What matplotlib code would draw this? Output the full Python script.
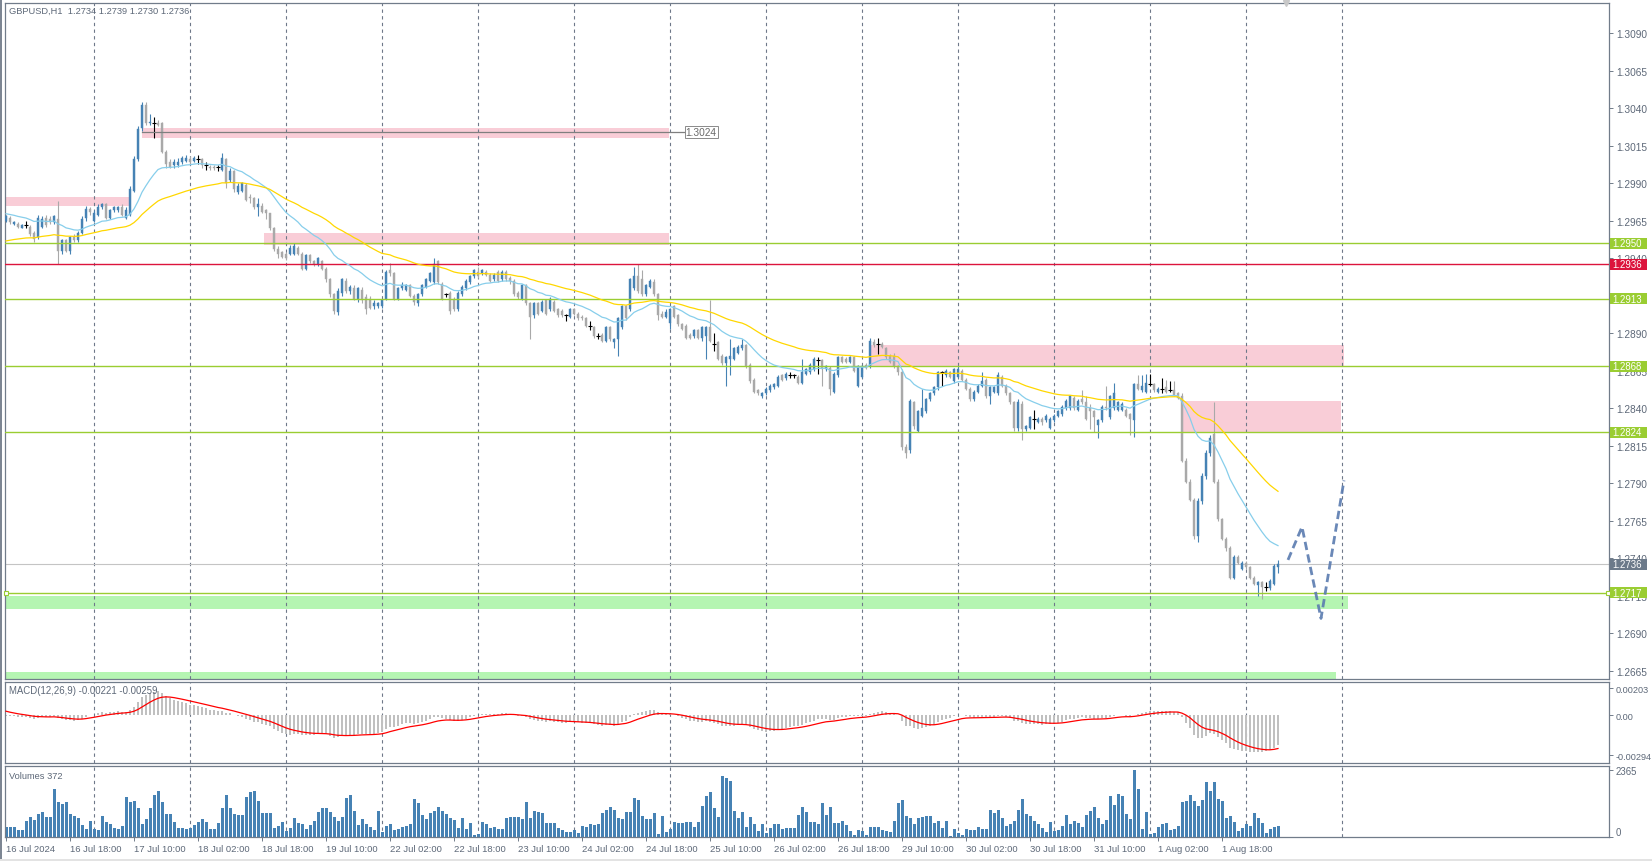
import numpy as np
import matplotlib.pyplot as plt
from matplotlib.patches import Rectangle
from matplotlib.transforms import blended_transform_factory

plt.rcParams['font.family'] = ['Liberation Sans', 'DejaVu Sans']

# GBPUSD H1, 16 Jul 2024 02:00 -> 2 Aug 2024 08:00
# prices are kept in pips relative to BASE
BASE = 1.2950
PIP = 0.0001
FIRST_HOUR = 2

open_pips = [
    15, 17, 13, 13, 10, 12, 11, 7, 4, 11, 17, 16,
    14, 16, -5, 2, -5, 4, 2, 7, 17, 23, 15, 19,
    24, 26, 17, 22, 22, 24, 17, 19, 35, 56, 77, 92,
    80, 80, 80, 80, 61, 54, 52, 52, 54, 55, 56, 55,
    56, 56, 52, 51, 51, 51, 49, 56, 42, 48, 34, 35,
    39, 31, 30, 24, 25, 22, 20, 10, -4, -6, -7, -7,
    -7, -3, -7, -17, -8, -12, -14, -12, -17, -24, -34, -46,
    -33, -25, -32, -30, -37, -31, -36, -37, -42, -42, -42, -37,
    -18, -20, -37, -30, -31, -28, -35, -40, -34, -29, -25, -26,
    -12, -27, -34, -33, -37, -44, -34, -30, -26, -22, -19, -20,
    -19, -21, -24, -19, -24, -19, -23, -25, -33, -37, -28, -40,
    -48, -40, -45, -38, -44, -39, -44, -45, -48, -49, -44, -47,
    -49, -50, -55, -56, -62, -61, -65, -56, -66, -64, -56, -42,
    -44, -30, -22,
    -24, -34, -29, -26, -34, -47, -49, -53, -42, -48, -54, -55,
    -61, -62, -58, -63, -62, -56, -67, -66, -75, -80, -77, -77,
    -73, -70, -68, -81, -91, -98, -102, -100, -98, -96, -95, -88,
    -90, -88, -88, -89, -93, -87, -86, -84, -78, -78, -84, -83,
    -99, -88, -76, -77, -79, -76, -95, -89, -81, -82, -66, -67,
    -67, -70, -75, -75, -82, -86, -136, -138, -106, -125, -115, -112,
    -104, -100, -96, -86, -88, -86, -92,
    -89, -85, -91, -97, -104, -99, -95, -91, -102, -99, -100, -89,
    -95, -100, -106, -123, -107, -124, -123, -117, -119, -117, -118, -123,
    -118, -115, -114, -110, -110, -103, -111, -104, -106, -110, -112, -121,
    -118, -109, -116, -110, -111, -111, -111, -114, -118, -94, -98, -99,
    -94, -94, -99, -97, -96, -98, -98, -100, -102, -145, -159, -171,
    -195, -172, -155, -140, -127, -159, -184, -197, -203, -223, -209, -217,
    -213, -216, -223, -228, -226, -229, -230, -227, -216,
]

close_pips = [
    18, 14, 14, 11, 12, 12, 6, 3, 17, 16, 12, 14,
    18, -5, 2, -5, 4, 2, 7, 16, 23, 21, 20, 24,
    26, 17, 22, 24, 24, 19, 22, 36, 56, 76, 92, 80,
    81, 80, 79, 61, 53, 51, 54, 54, 57, 57, 54, 57,
    56, 52, 52, 50, 50, 51, 57, 40, 48, 36, 38, 40,
    29, 30, 24, 26, 21, 20, 10, -4, -7, -9, -10, -3,
    -2, -7, -17, -8, -12, -14, -10, -17, -24, -34, -45, -32,
    -24, -32, -29, -37, -30, -38, -44, -43, -40, -40, -38, -19,
    -20, -37, -30, -28, -28, -35, -39, -34, -28, -24, -20, -14,
    -26, -37, -34, -45, -44, -33, -29, -25, -22, -18, -22, -18,
    -21, -25, -21, -25, -19, -24, -25, -34, -36, -28, -40, -49,
    -40, -47, -39, -47, -37, -45, -48, -48, -48, -44, -47, -50,
    -50, -55, -55, -62, -62, -65, -56, -64, -64, -50, -42, -50,
    -24, -22, -32,
    -34, -28, -25, -34, -48, -49, -46, -44, -49, -54, -57, -63,
    -63, -58, -63, -56, -56, -65, -67, -77, -80, -76, -75, -70,
    -69, -68, -82, -92, -99, -100, -100, -97, -95, -94, -89, -91,
    -87, -88, -88, -93, -86, -84, -81, -77, -78, -84, -82, -97,
    -87, -76, -79, -79, -76, -85, -82, -82, -83, -65, -68, -67,
    -69, -76, -79, -82, -86, -136, -140, -105, -122, -112, -110, -104,
    -100, -96, -86, -86, -85, -89, -84,
    -84, -91, -97, -104, -99, -95, -92, -102, -96, -96, -88, -95,
    -100, -106, -123, -106, -124, -122, -116, -117, -117, -119, -115, -117,
    -115, -112, -109, -105, -102, -110, -105, -106, -117, -112, -116, -118,
    -109, -110, -102, -100, -106, -107, -115, -117, -94, -97, -95, -93,
    -94, -98, -97, -97, -99, -98, -101, -103, -145, -159, -171, -195,
    -172, -155, -140, -130, -159, -184, -197, -203, -223, -209, -213, -213,
    -216, -223, -227, -226, -229, -229, -225, -215, -214,
]

high_pips = [
    19, 18, 15, 14, 13, 15, 12, 8, 19, 18, 19, 18,
    19, 28, 3, 3, 5, 6, 8, 18, 25, 24, 22, 26,
    27, 27, 23, 25, 25, 26, 24, 38, 58, 78, 94, 94,
    86, 84, 82, 81, 62, 56, 56, 57, 58, 59, 58, 58,
    59, 57, 54, 52, 52, 52, 60, 57, 50, 49, 40, 41,
    40, 33, 31, 30, 27, 23, 20, 11, -2, -5, -6, -1,
    0, -2, -6, -7, -7, -11, -9, -11, -16, -23, -33, -30,
    -23, -23, -28, -28, -29, -29, -34, -35, -38, -39, -37, -18,
    -13, -19, -29, -26, -27, -27, -34, -33, -27, -23, -19, -10,
    -11, -26, -33, -32, -36, -32, -28, -24, -21, -17, -16, -17,
    -18, -20, -20, -18, -18, -18, -22, -24, -32, -27, -27, -39,
    -39, -39, -38, -37, -36, -38, -43, -44, -47, -43, -43, -46,
    -48, -49, -52, -55, -60, -60, -55, -55, -63, -49, -41, -41,
    -23, -16, -14,
    -18, -27, -24, -24, -33, -45, -44, -43, -41, -47, -53, -54,
    -60, -57, -57, -55, -55, -38, -60, -65, -74, -75, -64, -69,
    -68, -64, -67, -80, -90, -97, -99, -96, -94, -93, -88, -87,
    -86, -86, -87, -88, -77, -83, -80, -76, -76, -77, -81, -82,
    -86, -75, -75, -76, -75, -75, -81, -81, -80, -63, -64, -63,
    -66, -69, -74, -73, -81, -84, -134, -104, -105, -111, -97, -103,
    -99, -95, -85, -85, -84, -85, -83,
    -82, -84, -90, -96, -98, -94, -86, -90, -95, -95, -86, -88,
    -94, -99, -105, -104, -105, -121, -115, -111, -116, -116, -114, -116,
    -114, -111, -108, -104, -101, -102, -104, -98, -102, -107, -111, -117,
    -108, -95, -101, -93, -105, -106, -110, -113, -93, -88, -88, -87,
    -87, -93, -96, -90, -91, -92, -92, -99, -100, -143, -157, -170,
    -170, -153, -138, -128, -106, -157, -183, -196, -202, -208, -208, -212,
    -212, -215, -222, -225, -225, -226, -224, -214, -211,
]

low_pips = [
    14, 13, 12, 10, 10, 10, 5, 1, 3, 10, 11, 13,
    13, -14, -7, -6, -7, 1, 1, 6, 15, 19, 14, 18,
    23, 16, 16, 21, 21, 18, 16, 18, 34, 55, 75, 79,
    79, 70, 78, 60, 50, 50, 50, 51, 53, 54, 53, 54,
    53, 50, 49, 49, 49, 48, 48, 37, 41, 34, 33, 34,
    28, 27, 23, 18, 20, 16, 9, -5, -10, -10, -11, -8,
    -8, -8, -18, -18, -13, -15, -15, -18, -26, -36, -47, -48,
    -35, -33, -34, -38, -39, -40, -47, -44, -44, -43, -43, -38,
    -22, -38, -38, -31, -32, -36, -41, -42, -35, -30, -26, -27,
    -27, -38, -36, -47, -45, -45, -35, -31, -27, -23, -23, -21,
    -22, -26, -25, -26, -25, -25, -27, -35, -37, -38, -41, -64,
    -50, -48, -46, -48, -45, -46, -49, -49, -52, -50, -48, -51,
    -51, -56, -58, -63, -64, -66, -66, -65, -70, -75, -57, -51,
    -45, -31, -33,
    -35, -35, -30, -35, -51, -50, -50, -57, -50, -55, -58, -64,
    -64, -63, -64, -65, -77, -66, -72, -78, -81, -95, -88, -78,
    -74, -71, -83, -93, -100, -101, -103, -101, -99, -97, -96, -92,
    -91, -90, -90, -94, -94, -88, -87, -85, -87, -95, -85, -101,
    -100, -89, -80, -80, -80, -86, -96, -90, -84, -83, -69, -74,
    -70, -77, -80, -83, -88, -138, -143, -140, -124, -126, -116, -113,
    -105, -101, -98, -95, -89, -90, -93,
    -90, -92, -98, -105, -105, -100, -96, -103, -107, -100, -101, -96,
    -101, -107, -125, -125, -131, -125, -124, -124, -120, -121, -119, -124,
    -119, -116, -115, -111, -111, -111, -112, -107, -118, -124, -126, -130,
    -119, -111, -117, -111, -112, -112, -116, -128, -129, -98, -99, -100,
    -95, -99, -100, -100, -100, -99, -102, -104, -146, -160, -172, -197,
    -199, -174, -157, -142, -160, -185, -198, -205, -224, -224, -214, -218,
    -217, -224, -228, -235, -237, -232, -231, -228, -220,
]

volumes = [
    366, 342, 342, 248, 248, 566, 720, 590, 802, 897, 696, 696,
    1687, 1227, 1168, 1227, 802, 755, 661, 425, 283, 566,
    271, 248, 743, 519, 448, 307, 283, 378, 1404, 1251, 1274, 1015,
    448, 625, 1015, 1487, 1617, 1251, 814, 814, 519, 307, 307, 283,
    330, 425, 520, 625, 519, 283, 283, 484, 1015, 1487, 1015, 802,
    767, 767, 1428, 1581, 1617, 1274, 838, 838, 838, 307, 400, 519,
    212, 330, 661, 507, 472, 271, 413, 566, 873, 1015, 1015, 873,
    700, 566, 720, 1369, 1487, 920, 425, 637, 448, 342, 248, 920,
    189, 378, 448, 248, 283, 366, 400, 448, 1333, 1192, 767, 637,
    838, 920, 1050, 920, 802, 661, 590, 307, 684, 295, 507, 71,
    94, 519, 448, 307, 366, 295, 295, 661, 696, 690, 696, 649,
    1227, 661, 920, 897, 838, 484, 484, 484, 307, 248, 189, 165,
    248, 130, 401, 366, 448, 425, 448, 838, 950, 1074, 956, 684,
    637, 873, 873, 1369, 1310, 755, 625, 625, 838, 94, 755, 189,
    271, 543, 510, 484, 519, 543, 366, 519, 1109, 1463, 1605, 1038,
    720, 2136, 2077, 1994, 932, 684, 897, 366, 720, 450, 212, 448,
    130, 307, 448, 448, 283, 330, 307, 330, 779, 1074, 897, 519, 519,
    460, 1204, 779, 1062, 496, 496, 566, 425, 212, 71,
    248, 212, 71, 354, 354, 354, 248, 212, 177, 566,
    1204, 1310, 743, 673, 460, 673, 708, 743, 743, 496,
    566, 319, 566, 35, 283, 142, 71, 283, 248, 248,
    354, 283, 283, 956, 850, 956, 673, 389, 460, 566,
    956, 1345, 814, 743, 566, 460, 319, 177, 531, 212,
    248, 389, 779, 460, 566, 496, 354, 779, 920, 1062,
    673, 460, 602, 1451, 1133, 1522, 1451, 814, 637, 2365,
    1699, 283, 885, 106, 142, 354, 460, 496, 248, 283,
    389, 1239, 1274, 1487, 1274, 1097, 1310, 1947, 1628, 1947,
    1345, 1274, 673, 743, 531, 212, 319, 460, 389, 850,
    673, 496, 142, 283, 354, 372,
]

date_labels = ['16 Jul 2024', '16 Jul 18:00', '17 Jul 10:00', '18 Jul 02:00',
               '18 Jul 18:00', '19 Jul 10:00', '22 Jul 02:00', '22 Jul 18:00',
               '23 Jul 10:00', '24 Jul 02:00', '24 Jul 18:00', '25 Jul 10:00',
               '26 Jul 02:00', '26 Jul 18:00', '29 Jul 10:00', '30 Jul 02:00',
               '30 Jul 18:00', '31 Jul 10:00', '1 Aug 02:00', '1 Aug 18:00']

# horizontal levels drawn by the analyst
green_levels = [1.2950, 1.2913, 1.2868, 1.2824, 1.2717]
red_level = 1.2936
trend_level = 1.3024
# zones: (bar from, bar to, price low, price high)
supply_zones = [(-0.5, 31, 1.2975, 1.2981), (34, 165.75, 1.3020, 1.3027),
                (64.5, 165.75, 1.2949, 1.2957), (216, 334.5, 1.2868, 1.2882),
                (294, 333.75, 1.2824, 1.2845)]
demand_zones = [(-0.5, 335.5, 1.2706, 1.2715), (-0.5, 332.5, 1.2659, 1.2664)]
# forecast path
fc_bars = [320.5, 324, 328.75, 334.5]
fc_price = [1.2739, 1.2761, 1.2700, 1.2792]

# values the indicators had at the first bar
EMA20_SEED, EMA50_SEED = 1.2970, 1.2951
EMA12_SEED, EMA26_SEED, SIGNAL_SEED = 1.29665, 1.29670, 0.0004
MACD_TICKS = [0.00203, 0.0, -0.00294]
MACD_TEXT = 'MACD(12,26,9) -0.00221 -0.00259'

o = BASE + np.array(open_pips) * PIP
c = BASE + np.array(close_pips) * PIP
h = BASE + np.array(high_pips) * PIP
l = BASE + np.array(low_pips) * PIP
h = np.maximum(h, np.maximum(o, c))
l = np.minimum(l, np.minimum(o, c))
vol = np.array(volumes)
x = np.arange(len(c))
assert len(o) == len(c) == len(h) == len(l) == len(vol)


def ema(values, period, seed):
    a = 2.0 / (period + 1)
    out = np.empty(len(values))
    prev = seed
    for k, v in enumerate(values):
        prev = prev + a * (v - prev)
        out[k] = prev
    return out


ma_fast = ema(c, 20, EMA20_SEED)
ma_slow = ema(c, 50, EMA50_SEED)
macd = ema(c, 12, EMA12_SEED) - ema(c, 26, EMA26_SEED)
signal = ema(macd, 9, SIGNAL_SEED)

BULL = '#4682b4'
BEAR = '#a9a9a9'
GREEN = '#9acd32'
RED = '#dc143c'
PINK = '#f9cdd7'
LIGHTGREEN = '#b5f5b2'
FRAME = '#717c8a'
TXT = '#5d6878'
FS = 6.7       # texts inside the panels
FS_AX = 7.3    # right-hand scale

W, H = 1652, 862
fig = plt.figure(figsize=(W / 100, H / 100), dpi=100)
fig.patch.set_facecolor('white')


def rect(x0, y0, x1, y1):
    return [x0 / W, 1 - y1 / H, (x1 - x0) / W, (y1 - y0) / H]


ax = fig.add_axes(rect(5, 4, 1609, 680))
axm = fig.add_axes(rect(5, 683, 1609, 764), sharex=ax)
axv = fig.add_axes(rect(5, 767, 1609, 838), sharex=ax)

fig.add_artist(Rectangle((0, 0), 2 / W, 1, transform=fig.transFigure,
                         color='#7d8693', lw=0))
fig.add_artist(Rectangle((0, 0), 1, 2 / H, transform=fig.transFigure,
                         color='#e3e3e3', lw=0))

for a in (ax, axm, axv):
    for s in a.spines.values():
        s.set_color(FRAME)
        s.set_linewidth(0.9)
    a.yaxis.tick_right()
    a.tick_params(axis='y', length=3, width=0.7, color=FRAME,
                  labelcolor=TXT, labelsize=FS_AX, pad=2)
    a.set_facecolor('white')

YLO, YHI = 1.26596, 1.31103
ax.set_xlim(-0.25, 400.75)
ax.set_ylim(YLO, YHI)

# daily separators, also into the future
for a in (ax, axm, axv):
    for d in np.arange(24 - FIRST_HOUR, 340, 24):
        a.axvline(d, color='#6e7889', lw=0.8, ls=(0, (3, 3)), zorder=1)

# zones
for x0, x1, y0, y1 in supply_zones:
    ax.add_patch(Rectangle((x0, y0), x1 - x0, y1 - y0, fc=PINK, ec='none', zorder=0.8))
for x0, x1, y0, y1 in demand_zones:
    ax.add_patch(Rectangle((x0, y0), x1 - x0, y1 - y0, fc=LIGHTGREEN, ec='none', zorder=0.8))

# candles
up = c > o
dn = c < o
dj = c == o
ax.vlines(x[up], l[up], h[up], color=BULL, lw=0.8, zorder=3)
ax.vlines(x[dn], l[dn], h[dn], color=BEAR, lw=0.8, zorder=3)
ax.vlines(x[dj], l[dj], h[dj], color='black', lw=0.8, zorder=3)
ax.bar(x[up], (c - o)[up], bottom=o[up], width=0.72, color=BULL,
       edgecolor=BULL, lw=0.3, zorder=3)
ax.bar(x[dn], (o - c)[dn], bottom=c[dn], width=0.72, color=BEAR,
       edgecolor=BEAR, lw=0.3, zorder=3)
ax.hlines(c[dj], x[dj] - 0.45, x[dj] + 0.45, color='black', lw=0.8, zorder=3)

ax.plot(x, ma_fast, color='#87ceeb', lw=0.9, zorder=4)
ax.plot(x, ma_slow, color='#ffd700', lw=0.9, zorder=4)

# price labels on the scale: boxes 37 px wide, 11 px tall
tr = blended_transform_factory(ax.transAxes, ax.transData)
px = (YHI - YLO) / 676


def scale_label(y, fc):
    ax.add_patch(Rectangle((1.0008, y - 5.5 * px), 37 / 1604, 11 * px, transform=tr,
                           fc=fc, ec='none', clip_on=False, zorder=5.5))
    ax.text(1.0022, y, f'{y:.4f}', transform=tr, ha='left', va='center',
            fontsize=6.9, color='white', clip_on=False, zorder=6)


for lv in green_levels:
    ax.axhline(lv, color=GREEN, lw=1.0, zorder=3.5)
    scale_label(lv, GREEN)
ax.axhline(red_level, color=RED, lw=1.0, zorder=3.5)
scale_label(red_level, RED)
ax.plot([-0.1, 400.6], [green_levels[-1]] * 2, ls='none', marker='s', ms=3,
        mfc='white', mec=GREEN, mew=0.8, zorder=5, clip_on=False)

# bid line
bid = c[-1]
ax.axhline(bid, color='#c4c4c4', lw=0.8, zorder=2)
scale_label(bid, '#6c7a8a')

# 1.3024 line with its label
ax.plot([34, 169.75], [trend_level, trend_level], color='#7f7f7f', lw=0.9, zorder=3.5)
ax.text(169.9, trend_level, f'{trend_level:.4f}', ha='left', va='center',
        fontsize=FS_AX, color='#6a6a6a', zorder=6,
        bbox=dict(boxstyle='square,pad=0.1', fc='white', ec='#8a8a8a', lw=0.7))

# forecast
ax.plot(fc_bars, fc_price, color='#5a7bb0', lw=2.0, ls=(0, (3, 1.6)),
        alpha=0.9, zorder=5, solid_capstyle='butt')

# chart shift marker
ax.plot([320], [YHI], marker='v', ms=5, color='#c8c8c8', clip_on=False, zorder=6)

ax.set_yticks(np.arange(1.2665, 1.3091, 0.0025))
ax.yaxis.set_major_formatter(plt.FormatStrFormatter('%.4f'))
ax.tick_params(axis='x', bottom=False, labelbottom=False)

ax.text(0.0025, 0.9895, f'GBPUSD,H1  {o[-1]:.4f} {h[-1]:.4f} {l[-1]:.4f} {c[-1]:.4f}',
        transform=ax.transAxes, ha='left', va='center', fontsize=FS, color=TXT)

# MACD
axm.bar(x, macd, width=0.55, color='#c0c0c0', lw=0, zorder=2)
axm.plot(x, signal, color='red', lw=0.9, zorder=3)
axm.set_ylim(-0.00353, 0.00248)
axm.set_yticks(MACD_TICKS)
axm.set_yticklabels(['0.00203', '0.00', '-0.00294'])
axm.tick_params(axis='x', bottom=False, labelbottom=False)
axm.tick_params(axis='y', labelsize=6.6, pad=1.5)
axm.text(0.0025, 0.90, MACD_TEXT, transform=axm.transAxes, ha='left', va='center',
         fontsize=6.9, color=TXT)

# volumes
axv.bar(x, vol, width=0.75, color=BULL, lw=0, zorder=2)
axv.set_ylim(0, vol.max() * 71 / 67)
axv.set_yticks([vol.max(), 0])
axv.set_yticklabels([str(vol.max()), '0'])
axv.get_yticklabels()[1].set_va('bottom')
axv.tick_params(axis='y', labelsize=6.9)
axv.text(0.0025, 0.87, f'Volumes {vol[-1]}', transform=axv.transAxes, ha='left',
         va='center', fontsize=FS, color=TXT)
axv.set_xticks(np.arange(0, len(x), 16)[:len(date_labels)])
axv.set_xticklabels(date_labels, ha='left')
axv.tick_params(axis='x', length=3, width=0.7, color=FRAME, labelcolor=TXT,
                labelsize=6.8, pad=2)

fig.savefig('out.png', dpi=100)
